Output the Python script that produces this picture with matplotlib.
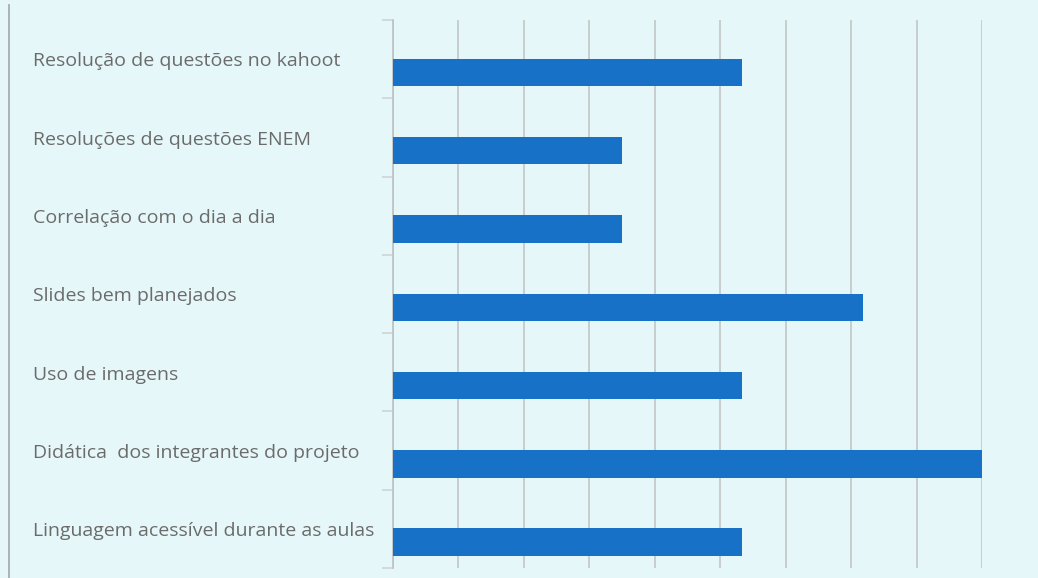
import numpy as np
import matplotlib
matplotlib.use('Agg')
import matplotlib.pyplot as plt
from matplotlib.lines import Line2D
from matplotlib.transforms import blended_transform_factory

categorias = [
    "Resolução de questões no kahoot",
    "Resoluções de questões ENEM",
    "Correlação com o dia a dia",
    "Slides bem planejados",
    "Uso de imagens",
    "Didática  dos integrantes do projeto",
    "Linguagem acessível durante as aulas",
]
# values, in gridline units
valores = [5.34, 3.5, 3.5, 7.18, 5.34, 9.0, 5.34]
eixo_max = 9

bg = '#e6f7fa'
bar_color = '#1771c6'

plt.rcParams['font.family'] = ['Open Sans', 'DejaVu Sans']

fig = plt.figure(figsize=(10.38, 5.78), dpi=100)
fig.patch.set_facecolor(bg)
ax = fig.add_axes([393 / 1038, 1 - 568 / 578, (982 - 393) / 1038, (568 - 20) / 578])
ax.set_facecolor(bg)

y = np.arange(len(categorias))
ax.barh(y + 0.17, valores, height=0.35, color=bar_color, zorder=3)

ax.set_xlim(0, eixo_max)
ax.set_ylim(len(categorias) - 0.5, -0.5)
ax.set_xticks(np.arange(0, eixo_max + 1))
ax.set_xticklabels([])
ax.tick_params(axis='x', length=0)
ax.grid(axis='x', color='#c5c9ca', linewidth=1.3, zorder=0)

ax.set_yticks(np.arange(-0.5, len(categorias), 1.0))
ax.set_yticklabels([])
ax.tick_params(axis='y', length=8, width=1.2, color='#d0d4d5', direction='out')

for s in ['top', 'right', 'bottom']:
    ax.spines[s].set_visible(False)
ax.spines['left'].set_color('#c0c4c5')
ax.spines['left'].set_linewidth(1.3)

trans = blended_transform_factory(fig.transFigure, ax.transData)
for i, cat in enumerate(categorias):
    ax.text(33 / 1038, i + 0.03, cat, transform=trans, ha='left', va='center',
            fontsize=14, color='#6b6b6b')

fig.add_artist(Line2D([8.5 / 1038, 8.5 / 1038], [0, 1 - 5 / 578],
                      transform=fig.transFigure, color='#a9adae', linewidth=1.3))

fig.savefig('out.png', facecolor=fig.get_facecolor())
